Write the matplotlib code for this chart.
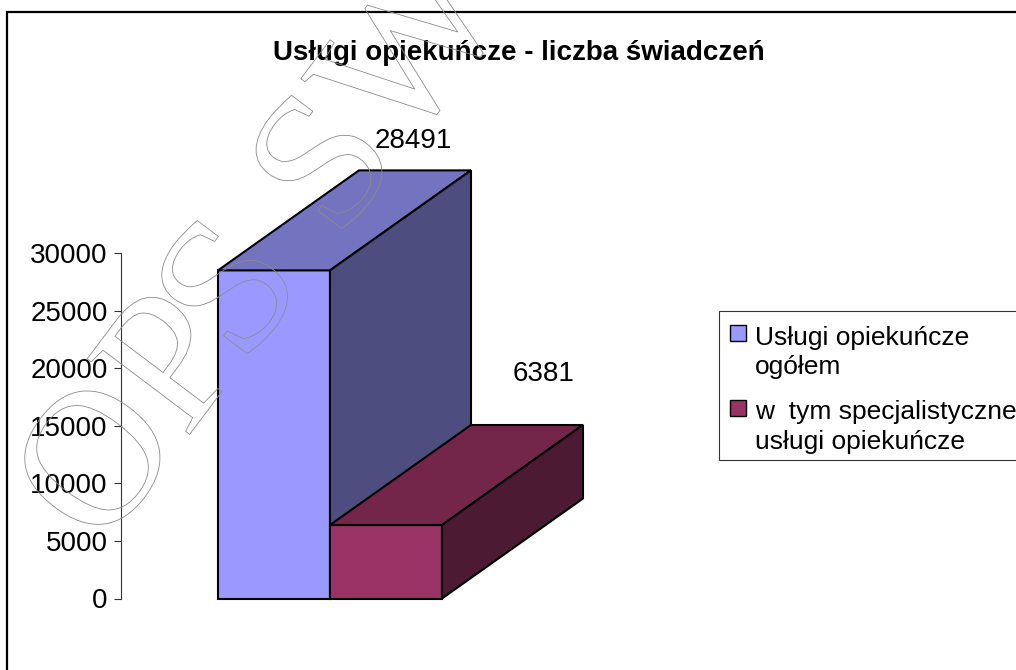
import matplotlib
matplotlib.use('Agg')
import matplotlib.pyplot as plt
from matplotlib.patches import Rectangle, Polygon
import matplotlib.patheffects as pe

W = 1016
H = 670

# values
title = 'Usługi opiekuńcze - liczba świadczeń'
series_names = ['Usługi opiekuńcze\nogółem', 'w  tym specjalistyczne\nusługi opiekuńcze']
values = [28491, 6381]
y_ticks = [0, 5000, 10000, 15000, 20000, 25000, 30000]

front_colors = ['#9999FF', '#993366']
top_colors = ['#7373BF', '#732649']
side_colors = ['#4D4D80', '#4D1A33']

plt.rcParams['font.family'] = ['Liberation Sans', 'DejaVu Sans']

fig = plt.figure(figsize=(W / 100, H / 100), dpi=100)


def fx(px):
    return px / W


def fy(py):
    return 1 - py / H


# outer chart frame, runs off the page on the right and bottom
fig.add_artist(Rectangle((fx(7), -0.05), 1.1, 1.05 - 12 / H, transform=fig.transFigure,
                         fill=False, edgecolor='black', linewidth=1.6))

# axes: y axis line at x=121, 0 at y=598.5, 30000 at y=253
ax = fig.add_axes([fx(121), fy(598.5), 448 / W, 345.5 / H])
ax.set_xlim(0, 4)
ax.set_ylim(0, 30000)
ax.patch.set_visible(False)
for s in ['top', 'right', 'bottom']:
    ax.spines[s].set_visible(False)
ax.spines['left'].set_color('#333333')
ax.spines['left'].set_linewidth(0.8)
ax.set_xticks([])
ax.set_yticks(y_ticks)
ax.tick_params(axis='y', length=5, width=0.8, color='#333333', pad=4.5, labelsize=20)

# fake 3d depth of the bars, in axis units
depth_x = 141 / 112
depth_y = 100 / 345.5 * 30000
bar_left = 0.866

for i, v in enumerate(values):
    x0 = bar_left + i
    x1 = x0 + 1
    ax.add_patch(Polygon([(x0, 0), (x1, 0), (x1, v), (x0, v)], closed=True,
                         facecolor=front_colors[i], edgecolor='black', linewidth=1.5,
                         clip_on=False, joinstyle='miter'))
    ax.add_patch(Polygon([(x0, v), (x1, v), (x1 + depth_x, v + depth_y), (x0 + depth_x, v + depth_y)],
                         closed=True, facecolor=top_colors[i], edgecolor='black', linewidth=1.5,
                         clip_on=False, joinstyle='miter'))
    ax.add_patch(Polygon([(x1, 0), (x1 + depth_x, depth_y), (x1 + depth_x, v + depth_y), (x1, v)],
                         closed=True, facecolor=side_colors[i], edgecolor='black', linewidth=1.5,
                         clip_on=False, joinstyle='miter'))

# data labels
label_offsets = [(139, 129), (158, 151)]
for i, v in enumerate(values):
    ax.annotate(str(v), (bar_left + i + 0.5, v), xytext=(label_offsets[i][0] * 0.72, label_offsets[i][1] * 0.72),
                textcoords='offset points', ha='center', va='center', fontsize=20, annotation_clip=False)

fig.text(fx(519), fy(53), title, ha='center', va='center', fontsize=20, fontweight='bold')

# legend box, drawn by hand since the key sits on the first line and the box runs off the page
fig.add_artist(Rectangle((fx(719), fy(459.5)), 0.5, 148.5 / H, transform=fig.transFigure,
                         facecolor='white', edgecolor='#333333', linewidth=0.8))
key_tops = [325, 400]
text_mids = [352.5, 427]
for i, name in enumerate(series_names):
    fig.add_artist(Rectangle((fx(729.5), fy(key_tops[i] + 16)), 16 / W, 16 / H, transform=fig.transFigure,
                             facecolor=front_colors[i], edgecolor='black', linewidth=1.0))
    fig.text(fx(755), fy(text_mids[i]), name, ha='left', va='center', fontsize=19, linespacing=1.3)

# outlined watermark over everything, two pieces because the letter spacing differs
for word, ax_px, ay_px in [('OP', 101, 552), ('S SW', 243, 367)]:
    wm = fig.text(fx(ax_px), fy(ay_px), word, family='Liberation Serif', fontsize=140, rotation=53,
                  rotation_mode='anchor', ha='left', va='baseline', color=(1, 1, 1, 0))
    wm.set_path_effects([pe.Stroke(linewidth=0.6, foreground='#8c8c8c')])
    wm.set_zorder(20)

fig.savefig('out.png', dpi=100)
